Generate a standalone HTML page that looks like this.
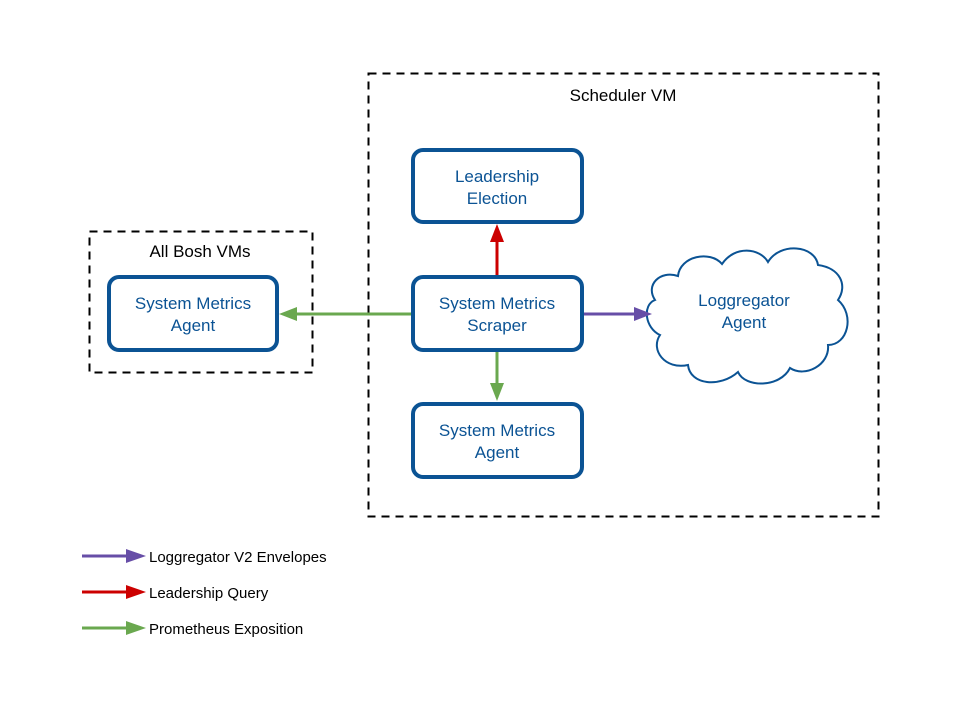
<!DOCTYPE html>
<html><head><style>body{margin:0;background:#fff}</style></head><body>
<svg width="960" height="720" viewBox="0 0 960 720" xmlns="http://www.w3.org/2000/svg" font-family="Liberation Sans, Arial, sans-serif">
<rect width="960" height="720" fill="#fff"/>
<rect x="368.5" y="73.5" width="510" height="443" fill="none" stroke="#000" stroke-width="2" stroke-dasharray="8,6"/>
<text x="623" y="101" font-size="17" text-anchor="middle" fill="#000">Scheduler VM</text>
<rect x="89.5" y="231.5" width="223" height="141" fill="none" stroke="#000" stroke-width="2" stroke-dasharray="8,6"/>
<text x="200" y="257" font-size="17" text-anchor="middle" fill="#000">All Bosh VMs</text>
<g fill="#fff" stroke="#0b5394" stroke-width="4">
<rect x="413" y="150" width="169" height="72" rx="10"/>
<rect x="413" y="277" width="169" height="73" rx="10"/>
<rect x="413" y="404" width="169" height="73" rx="10"/>
<rect x="109" y="277" width="168" height="73" rx="10"/>
</g>
<path d="M655,300 C645,285 660,270 678,276 C680,256 710,250 722,264 C735,245 760,248 768,262 C780,242 815,245 818,265 C840,268 848,285 838,300 C855,315 848,345 828,345 C830,365 805,378 790,368 C780,388 745,388 738,372 C720,388 690,385 688,365 C665,370 650,350 660,335 C645,328 642,305 655,300 Z" fill="#fff" stroke="#0b5394" stroke-width="2"/>
<g font-size="17" fill="#0b5394" text-anchor="middle">
<text x="497" y="182">Leadership</text><text x="497" y="204">Election</text>
<text x="497" y="309">System Metrics</text><text x="497" y="331">Scraper</text>
<text x="497" y="436">System Metrics</text><text x="497" y="458">Agent</text>
<text x="193" y="309">System Metrics</text><text x="193" y="331">Agent</text>
<text x="744" y="306">Loggregator</text><text x="744" y="328">Agent</text>
</g>
<line x1="497" y1="275" x2="497" y2="240" stroke="#cc0000" stroke-width="3"/>
<polygon points="497,224 490,242 504,242" fill="#cc0000"/>
<line x1="411" y1="314" x2="296" y2="314" stroke="#6aa84f" stroke-width="3"/>
<polygon points="279,314 297,307 297,321" fill="#6aa84f"/>
<line x1="497" y1="352" x2="497" y2="385" stroke="#6aa84f" stroke-width="3"/>
<polygon points="497,401 490,383 504,383" fill="#6aa84f"/>
<line x1="584" y1="314" x2="636" y2="314" stroke="#674ea7" stroke-width="3"/>
<polygon points="652,314 634,307 634,321" fill="#674ea7"/>
<g font-size="15" fill="#000">
<line x1="82" y1="556" x2="128" y2="556" stroke="#674ea7" stroke-width="3"/><polygon points="146,556 126,549 126,563" fill="#674ea7"/>
<text x="149" y="562">Loggregator V2 Envelopes</text>
<line x1="82" y1="592" x2="128" y2="592" stroke="#cc0000" stroke-width="3"/><polygon points="146,592 126,585 126,599" fill="#cc0000"/>
<text x="149" y="598">Leadership Query</text>
<line x1="82" y1="628" x2="128" y2="628" stroke="#6aa84f" stroke-width="3"/><polygon points="146,628 126,621 126,635" fill="#6aa84f"/>
<text x="149" y="634">Prometheus Exposition</text>
</g>
</svg>
</body></html>
